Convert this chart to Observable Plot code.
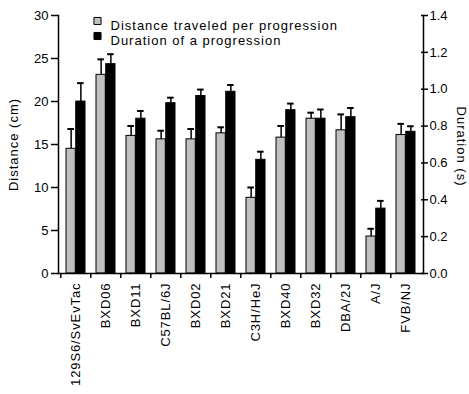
<!DOCTYPE html>
<html>
<head>
<meta charset="utf-8">
<script src="https://cdn.jsdelivr.net/npm/d3@7"></script>
<script src="https://cdn.jsdelivr.net/npm/@observablehq/plot@0.6"></script>
<style>
  html, body { margin: 0; padding: 0; background: white; }
  svg { display: block; }
  g[aria-label="text"] text { letter-spacing: 1px; }
  g[aria-label="x-axis tick label"] text { letter-spacing: 0.9px; }
</style>
</head>
<body>
<div id="chart"></div>
<script>
const categories = ["129S6/SvEvTac","BXD06","BXD11","C57BL/6J","BXD02","BXD21","C3H/HeJ","BXD40","BXD32","DBA/2J","A/J","FVB/NJ"];
const distance    = [14.5, 23.1, 16.0, 15.6, 15.6, 16.3, 8.8, 15.8, 18.0, 16.65, 4.3, 16.1];
const distanceErr = [2.3, 1.8, 1.15, 1.0, 1.2, 0.7, 1.2, 1.35, 0.7, 1.85, 0.9, 1.3];
const duration    = [0.933, 1.136, 0.84, 0.924, 0.963, 0.986, 0.617, 0.886, 0.84, 0.848, 0.352, 0.769];
const durationErr = [0.10, 0.054, 0.042, 0.03, 0.035, 0.037, 0.044, 0.036, 0.05, 0.05, 0.042, 0.03];
const distanceTicks = [0, 5, 10, 15, 20, 25, 30];
const durationTicks = [0, 0.2, 0.4, 0.6, 0.8, 1.0, 1.2, 1.4];
const legendLabels = ["Distance traveled per progression", "Duration of a progression"];
const legendColors = ["#c0c0c0", "black"];

const W = 469, H = 394;
const mL = 58, mR = 46, mT = 15, mB = 121;
const k = 30 / 1.4; // seconds -> cm on shared axis
const step = (W - mL - mR) / categories.length;
const padIn = 0.36;
const bw = step * (1 - padIn);
const half = bw / 2;
const cap = 7;

const table = categories.map((c, i) => ({
  c, dist: distance[i], de: distanceErr[i], dur: duration[i] * k, due: durationErr[i] * k
}));

const font = "Liberation Sans, Arial, Helvetica, sans-serif";

const legendMarks = legendLabels.flatMap((lab, i) => [
  Plot.dot([lab], {frameAnchor: "top-left", dx: 39, dy: 5.5 + i * 15, symbol: "square", r: 4, fill: legendColors[i], stroke: "black", strokeWidth: 1}),
  Plot.text([lab], {text: d => d, frameAnchor: "top-left", dx: 52, dy: 5 + i * 15.5, textAnchor: "start", fontSize: 13, fill: "black"})
]);

const chart = Plot.plot({
  width: W, height: H,
  marginLeft: mL, marginRight: mR, marginTop: mT, marginBottom: mB,
  style: {fontFamily: font, fontSize: "12px", color: "black", background: "white"},
  x: {type: "band", domain: categories, paddingInner: padIn, paddingOuter: padIn / 2, axis: null},
  y: {domain: [0, 30], axis: null},
  marks: [
    // bars
    Plot.barY(table, {x: "c", y: "dist", fill: "#c0c0c0", stroke: "black", strokeWidth: 1, insetRight: half}),
    Plot.barY(table, {x: "c", y: "dur", fill: "black", stroke: "black", strokeWidth: 1, insetLeft: half}),
    // error bars (upper only)
    Plot.ruleX(table, {x: "c", y1: "dist", y2: d => d.dist + d.de, dx: -half / 2, stroke: "black", strokeWidth: 1.5}),
    Plot.tickY(table, {x: "c", y: d => d.dist + d.de, insetLeft: half / 2 - cap / 2, insetRight: bw - half / 2 - cap / 2, stroke: "black", strokeWidth: 2}),
    Plot.ruleX(table, {x: "c", y1: "dur", y2: d => d.dur + d.due, dx: half / 2, stroke: "black", strokeWidth: 1.5}),
    Plot.tickY(table, {x: "c", y: d => d.dur + d.due, insetLeft: half + half / 2 - cap / 2, insetRight: half / 2 - cap / 2, stroke: "black", strokeWidth: 2}),
    // axis lines
    Plot.frame({anchor: "left", stroke: "black", strokeWidth: 1.5}),
    Plot.frame({anchor: "right", stroke: "black", strokeWidth: 1.5}),
    Plot.ruleY([0], {stroke: "black", strokeWidth: 1.5}),
    // left axis
    Plot.axisY({anchor: "left", ticks: distanceTicks, tickSize: 7, tickPadding: 3, label: null, fontSize: 13, strokeWidth: 1.5}),
    // right axis
    Plot.axisY({anchor: "right", ticks: durationTicks.map(d => d * k), tickFormat: d => (d / k).toFixed(1), tickSize: 4, tickPadding: 2, label: null, fontSize: 13, strokeWidth: 1.5}),
    Plot.axisY({anchor: "right", ticks: durationTicks.map(d => d * k), tickFormat: () => "", tickSize: -3, label: null, strokeWidth: 1.5}),
    // x axis
    Plot.axisX({anchor: "bottom", tickSize: 5, tickFormat: () => "", dx: -step / 2, label: null, strokeWidth: 1.5}),
    Plot.axisX({anchor: "bottom", tickRotate: -90, tickSize: 0, tickPadding: 9, label: null, fontSize: 13}),
    // titles
    Plot.text(["Distance (cm)"], {text: d => d, frameAnchor: "left", textAnchor: "middle", rotate: -90, dx: -45, dy: 0, fontSize: 13}),
    Plot.text(["Duration (s)"], {text: d => d, frameAnchor: "right", textAnchor: "middle", rotate: 90, dx: 38, dy: 2, fontSize: 13}),
    ...legendMarks
  ]
});
document.getElementById("chart").appendChild(chart);
</script>
</body>
</html>
